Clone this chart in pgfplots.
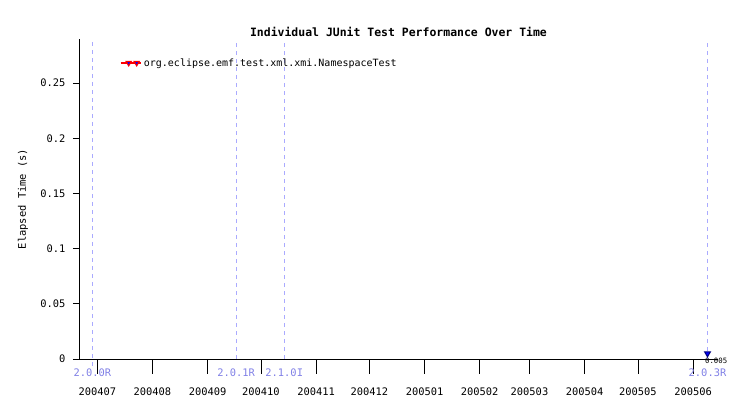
\documentclass[border=0pt]{standalone}
\usepackage{pgfplots}
\pgfplotsset{compat=1.18}
\usepackage{fontspec}
\setmainfont{DejaVu Sans Mono}
\definecolor{verline}{RGB}{170,170,255}
\definecolor{vertext}{RGB}{128,128,230}
\begin{document}
\begin{tikzpicture}[x=0.75pt,y=0.75pt]
\fontsize{7.5}{9}\selectfont
\useasboundingbox (-79,-57) rectangle (672,359);
\begin{axis}[
    at={(0,0)}, anchor=south west,
    scale only axis,
    width=479.25pt, height=240pt,
    axis lines*=left,
    axis line style={black, line width=0.6pt, -},
    clip=false,
    xmin=-10.3, xmax=349,
    ymin=0, ymax=0.29,
    xtick={0,31,62,92,123,153,184,215,243,274,304,335},
    xticklabels={200407,200408,200409,200410,200411,200412,200501,200502,200503,200504,200505,200506},
    ytick={0,0.05,0.1,0.15,0.2,0.25},
    yticklabels={0,0.05,0.1,0.15,0.2,0.25},
    tick align=outside,
    tick style={black, line width=0.6pt},
    major tick length=4.5pt,
    xtick style={/pgfplots/major tick length=11.25pt},
    xticklabel style={font=\fontsize{7.8}{9}\selectfont, yshift=-14.5pt},
    yticklabel style={font=\fontsize{7.8}{9}\selectfont, xshift=-3pt},
    title={\bfseries Individual JUnit Test Performance Over Time},
    title style={font=\fontsize{8.6}{10}\selectfont, yshift=-7pt},
    ylabel={Elapsed Time (s)},
    ylabel style={font=\fontsize{7.8}{9}\selectfont, yshift=4pt},
    legend style={draw=none, fill=none, at={(0.064,0.925)}, anchor=west,
        font=\fontsize{7.5}{9}\selectfont, inner sep=0pt},
    legend cell align=left,
    legend image code/.code={
        \draw[red, line width=0.8pt] (0pt,0pt) -- (15pt,0pt);
        \draw[red, fill=blue] plot[mark=triangle*, mark size=2.2pt, mark options={rotate=180}] coordinates {(6pt,0pt)};
        \draw[red, fill=blue] plot[mark=triangle*, mark size=2.2pt, mark options={rotate=180}] coordinates {(12pt,0pt)};
    },
]
% version markers
\addplot[verline, dashed, forget plot] coordinates {(-2.8,-0.006) (-2.8,0.29)};
\addplot[verline, dashed, forget plot] coordinates {(78.1,0) (78.1,0.29)};
\addplot[verline, dashed, forget plot] coordinates {(105.1,0) (105.1,0.29)};
\addplot[verline, dashed, forget plot] coordinates {(343.1,0) (343.1,0.29)};
\node[text=vertext, anchor=center, font=\fontsize{7.8}{9}\selectfont] at (axis cs:-2.8,0) [yshift=-10.5pt] {2.0.0R};
\node[text=vertext, anchor=center, font=\fontsize{7.8}{9}\selectfont] at (axis cs:78.1,0) [yshift=-10.5pt] {2.0.1R};
\node[text=vertext, anchor=center, font=\fontsize{7.8}{9}\selectfont] at (axis cs:105.1,0) [yshift=-10.5pt] {2.1.0I};
\node[text=vertext, anchor=center, font=\fontsize{7.8}{9}\selectfont] at (axis cs:343.1,0) [yshift=-10.5pt] {2.0.3R};
% data
\addplot[red, line width=0.8pt, mark=triangle*, mark size=2.5pt,
    mark options={rotate=180, fill=blue, draw=blue!50!black}]
    coordinates {(343.1,0.005)};
\addlegendentry{org.eclipse.emf.test.xml.xmi.NamespaceTest}
\node[anchor=north west, inner sep=0pt, font=\fontsize{5.5}{6}\selectfont] at (axis cs:343.1,0.005) [xshift=-2pt, yshift=-3pt] {0.005};
\end{axis}
\end{tikzpicture}
\end{document}
